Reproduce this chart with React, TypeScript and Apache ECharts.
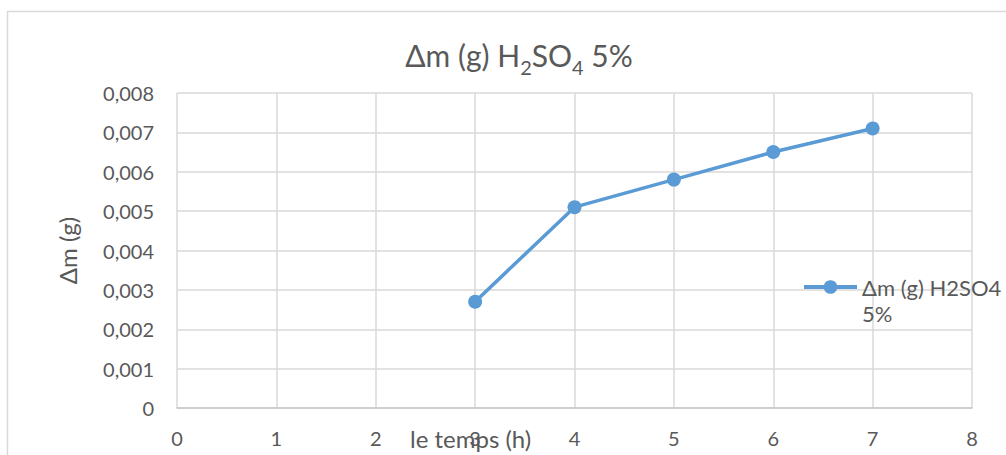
import React, { useEffect, useRef } from "react";
import * as echarts from "echarts";

const timeHours = [3, 4, 5, 6, 7];
const deltaMass = [0.0027, 0.0051, 0.0058, 0.0065, 0.0071];
const seriesName = "Δm (g) H2SO4 5%";
const xAxisTitle = "le temps (h)";
const yAxisTitle = "Δm (g)";

const FONT = "Lato";
const TEXT = "#595959";
const GRID = "#d9d9d9";
const BLUE = "#5B9BD5";

export default function App() {
  const ref = useRef<HTMLDivElement>(null);
  useEffect(() => {
    if (!ref.current) return;
    const chart = echarts.init(ref.current, null, { renderer: "svg" });
    chart.setOption({
      animation: false,
      backgroundColor: "#ffffff",
      textStyle: { fontFamily: FONT, color: TEXT },
      title: {
        text: "{a|Δm (g) H}{s|2}{a|SO}{s|4}{a| 5%}",
        left: 514,
        top: 28,
        textAlign: "center",
        textStyle: {
          fontWeight: "normal",
          rich: {
            a: { fontFamily: FONT, fontSize: 30, fontWeight: "normal", color: TEXT, lineHeight: 44, verticalAlign: "middle" },
            s: { fontFamily: FONT, fontSize: 20, fontWeight: "normal", color: TEXT, lineHeight: 20, verticalAlign: "bottom" },
          },
        },
      },
      graphic: [
        {
          type: "rect",
          shape: { x: 7.5, y: 11.5, width: 1200, height: 600 },
          style: { fill: "none", stroke: GRID, lineWidth: 1.5 },
          silent: true,
          z: -1,
        },
        {
          type: "text",
          x: 410,
          y: 438,
          style: {
            text: xAxisTitle,
            fontFamily: FONT,
            fontSize: 24,
            fill: TEXT,
            verticalAlign: "middle",
          },
        },
      ],
      legend: {
        orient: "vertical",
        left: 797,
        top: 243,
        itemWidth: 53,
        itemHeight: 17,
        formatter: () => " \nΔm (g) H2SO4\n5%",
        lineStyle: { width: 4 },
        textStyle: {
          fontFamily: FONT,
          fontSize: 22,
          color: TEXT,
          lineHeight: 26,
        },
        data: [seriesName],
      },
      grid: { left: 177, right: 34, top: 93, bottom: 47 },
      xAxis: {
        type: "value",
        min: 0,
        max: 8,
        interval: 1,
        axisLine: { show: true, lineStyle: { color: "#c8c8c8", width: 1.5 } },
        axisTick: { show: false },
        axisLabel: { color: TEXT, fontFamily: FONT, fontSize: 20, margin: 20 },
        splitLine: { show: true, lineStyle: { color: GRID, width: 1.5 } },
      },
      yAxis: {
        type: "value",
        min: 0,
        max: 0.008,
        interval: 0.001,
        name: yAxisTitle,
        nameLocation: "middle",
        nameGap: 98,
        nameTextStyle: { color: TEXT, fontFamily: FONT, fontSize: 24 },
        axisLine: { show: false },
        axisTick: { show: false },
        axisLabel: {
          color: TEXT,
          fontFamily: FONT,
          fontSize: 20,
          margin: 23,
          formatter: (v: number) => (v === 0 ? "0" : v.toFixed(3).replace(".", ",")),
        },
        splitLine: { show: true, lineStyle: { color: GRID, width: 1.5 } },
      },
      series: [
        {
          name: seriesName,
          type: "line",
          data: timeHours.map((t, i) => [t, deltaMass[i]]),
          symbol: "circle",
          symbolSize: 14,
          itemStyle: { color: BLUE },
          lineStyle: { color: BLUE, width: 3.5 },
        },
      ],
    });
    return () => chart.dispose();
  }, []);
  return (
    <div
      ref={ref}
      style={{ position: "fixed", left: 0, top: 0, width: 1006, height: 455 }}
    />
  );
}
